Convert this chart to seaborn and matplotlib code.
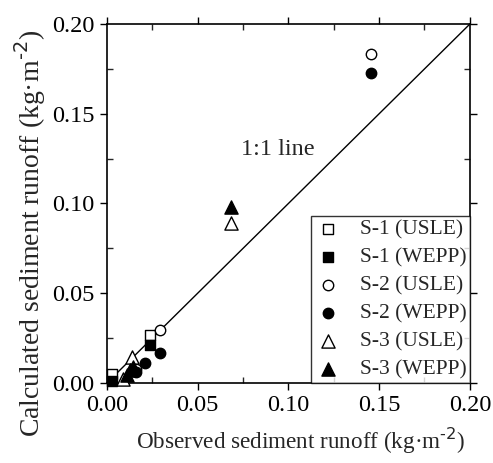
import matplotlib
matplotlib.use("Agg")
import matplotlib.pyplot as plt
import seaborn as sns
from matplotlib.ticker import MultipleLocator

# observed (x) vs calculated (y) sediment runoff, kg/m2
s1_usle_x = [0.003, 0.0237]
s1_usle_y = [0.0052, 0.0267]
s1_wepp_x = [0.003, 0.0237]
s1_wepp_y = [0.0008, 0.0212]
s2_usle_x = [0.016, 0.0292, 0.1458]
s2_usle_y = [0.008, 0.0295, 0.1833]
s2_wepp_x = [0.016, 0.0209, 0.0292, 0.1458]
s2_wepp_y = [0.006, 0.0111, 0.0167, 0.1725]
s3_usle_x = [0.009, 0.0136, 0.0682]
s3_usle_y = [0.002, 0.0147, 0.0893]
s3_wepp_x = [0.0108, 0.0127, 0.0143, 0.0682]
s3_wepp_y = [0.0045, 0.0072, 0.0089, 0.0982]

line_x = [0.0, 0.2]
line_y = [0.0, 0.2]

sns.set_style("ticks")
plt.rcParams["font.family"] = ["Liberation Serif", "DejaVu Serif"]

fig = plt.figure(figsize=(4.93, 4.63), dpi=100)
ax = fig.add_axes([0.217, 0.173, 0.736, 0.775])

sns.lineplot(x=line_x, y=line_y, color="black", linewidth=1.0, ax=ax)

series = [
    (s1_usle_x, s1_usle_y, "s", "white", "S-1 (USLE)", 7.5),
    (s1_wepp_x, s1_wepp_y, "s", "black", "S-1 (WEPP)", 7.5),
    (s2_usle_x, s2_usle_y, "o", "white", "S-2 (USLE)", 7.5),
    (s2_wepp_x, s2_wepp_y, "o", "black", "S-2 (WEPP)", 7.5),
    (s3_usle_x, s3_usle_y, "^", "white", "S-3 (USLE)", 9.5),
    (s3_wepp_x, s3_wepp_y, "^", "black", "S-3 (WEPP)", 9.5),
]
for xs, ys, mk, fc, lab, ms in series:
    sns.scatterplot(x=xs, y=ys, marker=mk, s=ms ** 2, facecolor=fc,
                    edgecolor="black", linewidth=1.0, label=lab, ax=ax,
                    zorder=3, clip_on=False)

ax.text(0.074, 0.130, "1:1 line", fontsize=17.5, ha="left", va="center")

ax.set_xlim(0, 0.2)
ax.set_ylim(0, 0.2)
ax.xaxis.set_major_locator(MultipleLocator(0.05))
ax.yaxis.set_major_locator(MultipleLocator(0.05))
ax.xaxis.set_minor_locator(MultipleLocator(0.025))
ax.yaxis.set_minor_locator(MultipleLocator(0.025))
ax.set_xticklabels(["%.2f" % v for v in ax.get_xticks()])
ax.set_yticklabels(["%.2f" % v for v in ax.get_yticks()])

ax.tick_params(which="major", direction="out", length=5, width=1.0,
               top=True, right=True, labelsize=17.5, pad=4, colors="black")
ax.tick_params(which="minor", direction="in", length=4, width=1.0,
               top=True, right=True)
for sp in ax.spines.values():
    sp.set_visible(True)
    sp.set_linewidth(1.2)
    sp.set_color("black")

ax.set_xlabel("Observed sediment runoff (kg\u00b7m$^{\\text{-2}}$)", fontsize=16.7)
ax.set_ylabel("Calculated sediment runoff (kg\u00b7m$^{\\text{-2}}$)", fontsize=20)
ax.xaxis.label.set_va("center")
ax.yaxis.label.set_va("center")
ax.xaxis.set_label_coords(0.534, -0.163)
ax.yaxis.set_label_coords(-0.212, 0.418)

leg = ax.legend(loc="lower right", fontsize=15.5, frameon=True, fancybox=False,
                edgecolor="black", borderaxespad=0, labelspacing=0.37,
                handletextpad=0.9, handlelength=1.2, borderpad=0.15)
leg.get_frame().set_linewidth(1.0)

fig.savefig("out.png", dpi=100)
